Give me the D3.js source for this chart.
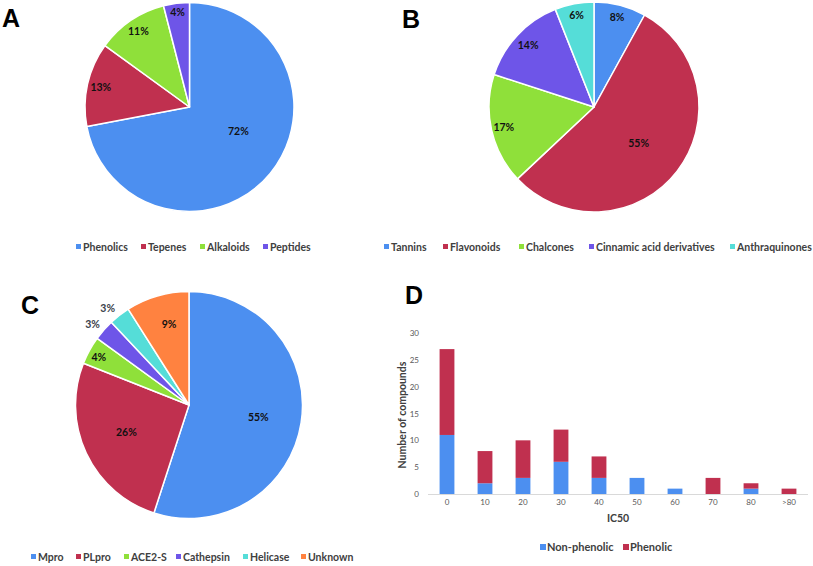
<!DOCTYPE html>
<html>
<head>
<meta charset="utf-8">
<script src="https://cdn.jsdelivr.net/npm/d3@7"></script>
<style>
  html, body { margin: 0; padding: 0; background: #fff; }
  svg { display: block; }
</style>
</head>
<body>
<svg id="chart" width="813" height="566"></svg>
<script>
// ---------------- DATA ----------------
const pieA_labels = ["Phenolics", "Tepenes", "Alkaloids", "Peptides"];
const pieA_values = [72, 13, 11, 4];

const pieB_labels = ["Tannins", "Flavonoids", "Chalcones", "Cinnamic acid derivatives", "Anthraquinones"];
const pieB_values = [8, 55, 17, 14, 6];

const pieC_labels = ["Mpro", "PLpro", "ACE2-S", "Cathepsin", "Helicase", "Unknown"];
const pieC_values = [55, 26, 4, 3, 3, 9];

const barD_categories = ["0", "10", "20", "30", "40", "50", "60", "70", "80", ">80"];
const barD_nonPhenolic = [11, 2, 3, 6, 3, 3, 1, 0, 1, 0];
const barD_phenolic    = [16, 6, 7, 6, 4, 0, 0, 3, 1, 1];
const barD_series = ["Non-phenolic", "Phenolic"];
const barD_yTicks = [0, 5, 10, 15, 20, 25, 30];

// ---------------- STYLE ----------------
const C_BLUE = "#4c8ff0", C_RED = "#c0304f", C_GREEN = "#8fe03a",
      C_PURPLE = "#6e55e8", C_CYAN = "#55ddd8", C_ORANGE = "#ff8240";
const FONT = "Lato, 'Open Sans', sans-serif";
const svg = d3.select("#chart");

// panel letters
const letters = [["A", 2, 27], ["B", 402, 28], ["C", 21, 314], ["D", 405, 304]];
svg.selectAll("text.panel").data(letters).enter().append("text")
  .attr("class", "panel")
  .attr("x", d => d[1]).attr("y", d => d[2])
  .attr("font-family", "'Liberation Sans', Arial, sans-serif")
  .attr("font-weight", "bold").attr("font-size", 25).attr("fill", "#000")
  .text(d => d[0]);

// ---------------- PIE HELPER ----------------
function drawPie(cfg) {
  const g = svg.append("g").attr("transform", `translate(${cfg.cx},${cfg.cy})`);
  const pie = d3.pie().sort(null).value(d => d)(cfg.values);
  const arc = d3.arc().innerRadius(0).outerRadius(cfg.r);
  g.selectAll("path").data(pie).enter().append("path")
    .attr("d", arc)
    .attr("fill", (d, i) => cfg.colors[i])
    .attr("stroke", "#fff").attr("stroke-width", 1.5).attr("stroke-linejoin", "round");

  g.selectAll("text.lbl").data(pie).enter().append("text")
    .attr("class", "lbl")
    .attr("transform", (d, i) => {
      const a = (d.startAngle + d.endAngle) / 2 + (cfg.labelAngleShift[i] || 0) * Math.PI / 180;
      const rr = cfg.r * cfg.labelFrac[i];
      return `translate(${rr * Math.sin(a)},${-rr * Math.cos(a)})`;
    })
    .attr("text-anchor", "middle").attr("dy", "0.35em")
    .attr("font-family", FONT).attr("font-weight", "bold").attr("font-size", 10.5)
    .attr("fill", (d, i) => cfg.labelFrac[i] > 1 ? "#3a3f4a" : "#111")
    .text(d => d.data + "%");

  // legend
  const lg = svg.append("g");
  const items = lg.selectAll("g").data(cfg.labels).enter().append("g")
    .attr("transform", (d, i) => `translate(${cfg.legendX[i]},${cfg.legendY})`);
  items.append("rect").attr("x", -7).attr("y", -3).attr("width", 5).attr("height", 5)
    .attr("fill", (d, i) => cfg.colors[i]);
  items.append("text").attr("x", 0).attr("y", 0).attr("dy", "0.35em")
    .attr("font-family", FONT).attr("font-weight", "bold").attr("font-size", 10.5)
    .attr("fill", "#404040").text(d => d);
}

drawPie({
  cx: 189.5, cy: 107, r: 104.5,
  values: pieA_values, labels: pieA_labels,
  colors: [C_BLUE, C_RED, C_GREEN, C_PURPLE],
  labelFrac: [0.52, 0.87, 0.87, 0.91], labelAngleShift: [-13.6, 0, 0, 0],
  legendX: [83, 148, 207, 270], legendY: 247
});

drawPie({
  cx: 594, cy: 107, r: 105,
  values: pieB_values, labels: pieB_labels,
  colors: [C_BLUE, C_RED, C_GREEN, C_PURPLE, C_CYAN],
  labelFrac: [0.88, 0.55, 0.88, 0.86, 0.89], labelAngleShift: [0, 1.6, 0, 0, 0],
  legendX: [391, 450, 526, 596, 737], legendY: 247
});

drawPie({
  cx: 189, cy: 405, r: 113.5,
  values: pieC_values, labels: pieC_labels,
  colors: [C_BLUE, C_RED, C_GREEN, C_PURPLE, C_CYAN, C_ORANGE],
  labelFrac: [0.62, 0.6, 0.9, 1.11, 1.11, 0.73], labelAngleShift: [0.9, 2, -0.8, -1.4, -2.4, 2.3],
  legendX: [38, 83, 131, 183, 250, 308], legendY: 557
});

// ---------------- BAR CHART D ----------------
const x = d3.scaleBand().domain(barD_categories).range([428, 808]).paddingInner(0.61).paddingOuter(0.305);
const y = d3.scaleLinear().domain([0, 30]).range([494, 333]);

const stackData = barD_categories.map((c, i) => ({ cat: c, "Non-phenolic": barD_nonPhenolic[i], "Phenolic": barD_phenolic[i] }));
const stacked = d3.stack().keys(barD_series)(stackData);
const barColors = [C_BLUE, C_RED];

const gD = svg.append("g");
gD.selectAll("g.series").data(stacked).enter().append("g")
  .attr("fill", (d, i) => barColors[i])
  .selectAll("rect").data(d => d).enter().append("rect")
  .attr("x", d => x(d.data.cat))
  .attr("width", x.bandwidth())
  .attr("y", d => y(d[1]))
  .attr("height", d => y(d[0]) - y(d[1]));

// x axis line
gD.append("line").attr("x1", 428).attr("x2", 808).attr("y1", y(0) + 0.5).attr("y2", y(0) + 0.5)
  .attr("stroke", "#d9d9d9").attr("stroke-width", 1);

// y tick labels
const yAxis = d3.axisLeft(y).tickValues(barD_yTicks).tickSize(0).tickPadding(0);
const gy = gD.append("g").attr("transform", "translate(419,0)").call(yAxis);
gy.select(".domain").remove();
gy.selectAll("text").attr("font-family", FONT).attr("font-size", 8).attr("fill", "#595959");

// x tick labels
const xAxis = d3.axisBottom(x).tickSize(0).tickPadding(0);
const gx = gD.append("g").attr("transform", `translate(0,${y(0) + 5})`).call(xAxis);
gx.select(".domain").remove();
gx.selectAll("text").attr("font-family", FONT).attr("font-size", 8).attr("fill", "#595959");

// axis titles
gD.append("text").attr("transform", "translate(406,415) rotate(-90)")
  .attr("text-anchor", "middle").attr("font-family", FONT).attr("font-weight", "bold")
  .attr("font-size", 10.5).attr("fill", "#404040").text("Number of compounds");
gD.append("text").attr("x", 618).attr("y", 522)
  .attr("text-anchor", "middle").attr("font-family", FONT).attr("font-weight", "bold")
  .attr("font-size", 10.5).attr("fill", "#404040").text("IC50");

// legend D
const legD = gD.selectAll("g.legd").data(barD_series).enter().append("g")
  .attr("transform", (d, i) => `translate(${[547, 630][i]},547)`);
legD.append("rect").attr("x", -7).attr("y", -3).attr("width", 6).attr("height", 6)
  .attr("fill", (d, i) => barColors[i]);
legD.append("text").attr("x", 0).attr("dy", "0.35em")
  .attr("font-family", FONT).attr("font-weight", "bold").attr("font-size", 11)
  .attr("fill", "#404040").text(d => d);
</script>
</body>
</html>
